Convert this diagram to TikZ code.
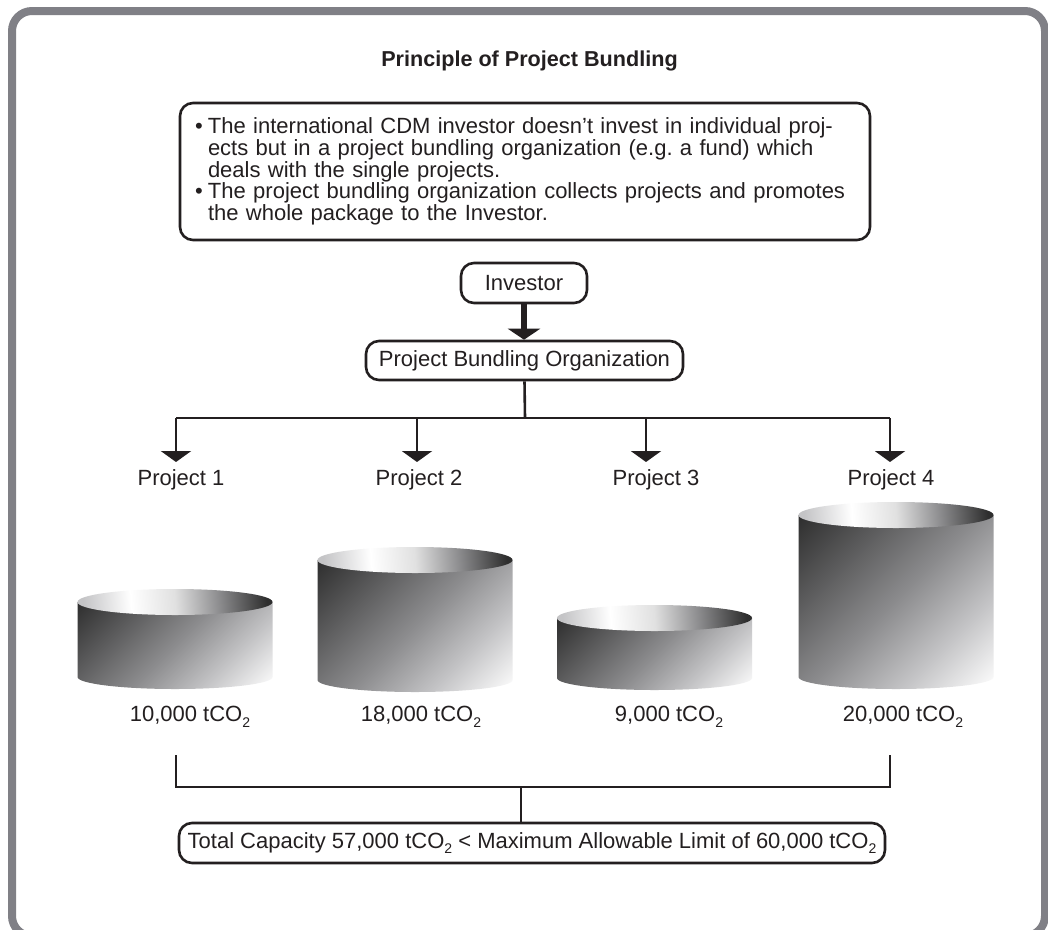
\documentclass[tikz,border=0pt]{standalone}
\usepackage{fontspec}
\setmainfont{Liberation Sans}
\usetikzlibrary{arrows.meta}
\frenchspacing

\definecolor{ink}{HTML}{231F20}
\definecolor{framegray}{RGB}{128,128,134}
\definecolor{cyldark}{HTML}{2E2E2E}
\definecolor{cylmid}{HTML}{8C8C8E}
\definecolor{cyllight}{HTML}{C4C4C6}

% side of a drum: dark upper left corner running to white lower right corner
\pgfdeclareverticalshading{drumside}{100bp}{%
  color(0bp)=(white); color(14.6bp)=(white); color(32bp)=(cyllight);
  color(50bp)=(cylmid); color(85.4bp)=(cyldark); color(100bp)=(cyldark)}
% lid of a drum: light on the left, dark at the far right rim
\pgfdeclareverticalshading{drumtop}{100bp}{%
  color(0bp)=(cyllight); color(25bp)=(cyllight); color(38bp)=(white);
  color(50bp)=(white!88!black); color(62bp)=(cylmid); color(75bp)=(cyldark);
  color(100bp)=(cyldark)}

% chemical formula with a lowered small 2
\newcommand\cotwo{CO\raisebox{-0.25em}{\fontsize{14}{14}\selectfont 2}}

% storage drum: #1 centre x, #2 top rim y, #3 base rim y (y measured downwards)
\newcommand\drum[3]{%
  \shade[shading=drumside, shading angle=45]
    (#1-97.5,-#2) -- (#1-97.5,-#3)
    arc[start angle=180, end angle=360, x radius=97.5, y radius=12]
    -- (#1+97.5,-#2) -- cycle;
  \shade[shading=drumtop, shading angle=-86]
    (#1,-#2) ellipse[x radius=97.5, y radius=13];
}

\begin{document}
\begin{tikzpicture}[x=1pt, y=1pt,
  txt/.style={font=\fontsize{22}{22}\selectfont, text=ink, inner sep=0pt},
  roundbox/.style={draw=ink, line width=2.6pt, rounded corners=13pt,
    font=\fontsize{22}{22}\selectfont, text=ink, inner sep=0pt},
  link/.style={draw=ink, line width=2.6pt},
  tip/.style={-{Triangle[width=30pt, length=11pt]}},
  bigtip/.style={-{Triangle[width=32pt, length=11pt]}}]

\useasboundingbox (0,0) rectangle (1048,-929);
\fill[white] (0,0) rectangle (1048,-929);

% outer frame, its lower edge runs off the page
\begin{scope}
  \clip (0,0) rectangle (1048,-929);
  \draw[framegray, line width=8pt, rounded corners=20pt] (12,-11) rectangle (1045,-936);
\end{scope}

% title
\node[txt, font=\fontsize{21.6}{21.6}\selectfont\bfseries] (title) at (529.5,-61) {Principle of Project Bundling};

% explanation box
\node[roundbox, minimum width=690pt, minimum height=137pt, text width=660pt, align=left,
      font=\fontsize{22}{21.6}\selectfont] (info) at (525,-171.5)
  {\mbox{\makebox[13pt][l]{\textbullet}The international CDM investor doesn’t invest in individual proj-}\\
   \mbox{\hspace*{13pt}ects but in a project bundling organization (e.g. a fund) which}\\
   \mbox{\hspace*{13pt}deals with the single projects.}\\
   \mbox{\makebox[13pt][l]{\textbullet}The project bundling organization collects projects and promotes}\\
   \mbox{\hspace*{13pt}the whole package to the Investor.}};

% investor and bundling organization
\node[roundbox, minimum width=126pt, minimum height=40pt] (inv) at (524,-283) {Investor};
\node[roundbox, minimum width=317pt, minimum height=39pt] (pbo) at (524.5,-360.5) {Project Bundling Organization};
\draw[link, line width=6pt, bigtip] (inv.south) -- (inv.south |- pbo.north);

% distribution to the projects
\coordinate (hub) at (525,-418);
\coordinate (b1) at (176,-418);
\coordinate (b2) at (417,-418);
\coordinate (b3) at (646,-418);
\coordinate (b4) at (890,-418);
\coordinate (t1) at (176,-462);
\coordinate (t2) at (417,-462);
\coordinate (t3) at (646,-462);
\coordinate (t4) at (890,-462);
\draw[link] (pbo.south) -- (hub);
\draw[link] (b1) -- (b4);
\draw[link, tip] (b1) -- (t1);
\draw[link, tip] (b2) -- (t2);
\draw[link, tip] (b3) -- (t3);
\draw[link, tip] (b4) -- (t4);

\node[txt] (p1) at (181,-480) {Project 1};
\node[txt] (p2) at (419,-480) {Project 2};
\node[txt] (p3) at (656,-480) {Project 3};
\node[txt] (p4) at (891,-480) {Project 4};

% emission volumes
\drum{175}{602}{677}
\drum{415}{560}{680}
\drum{654.5}{618}{678}
\drum{896}{515}{677}

\node[txt] (v1) at (190,-717) {10,000 t\cotwo};
\node[txt] (v2) at (421,-717) {18,000 t\cotwo};
\node[txt] (v3) at (669,-717) {9,000 t\cotwo};
\node[txt] (v4) at (903,-717) {20,000 t\cotwo};

% summing bracket and total
\coordinate (k1) at (176,-755);
\coordinate (k4) at (890,-755);
\coordinate (kl) at (176,-787);
\coordinate (kr) at (890,-787);
\coordinate (kc) at (521,-787);
\node[roundbox, minimum width=706pt, minimum height=40pt] (total) at (532,-843)
  {Total Capacity 57,000 t\cotwo{} < Maximum Allowable Limit of 60,000 t\cotwo};
\draw[link] (k1) -- (kl) -- (kr) -- (k4);
\draw[link] (kc) -- (kc |- total.north);

\end{tikzpicture}
\end{document}
